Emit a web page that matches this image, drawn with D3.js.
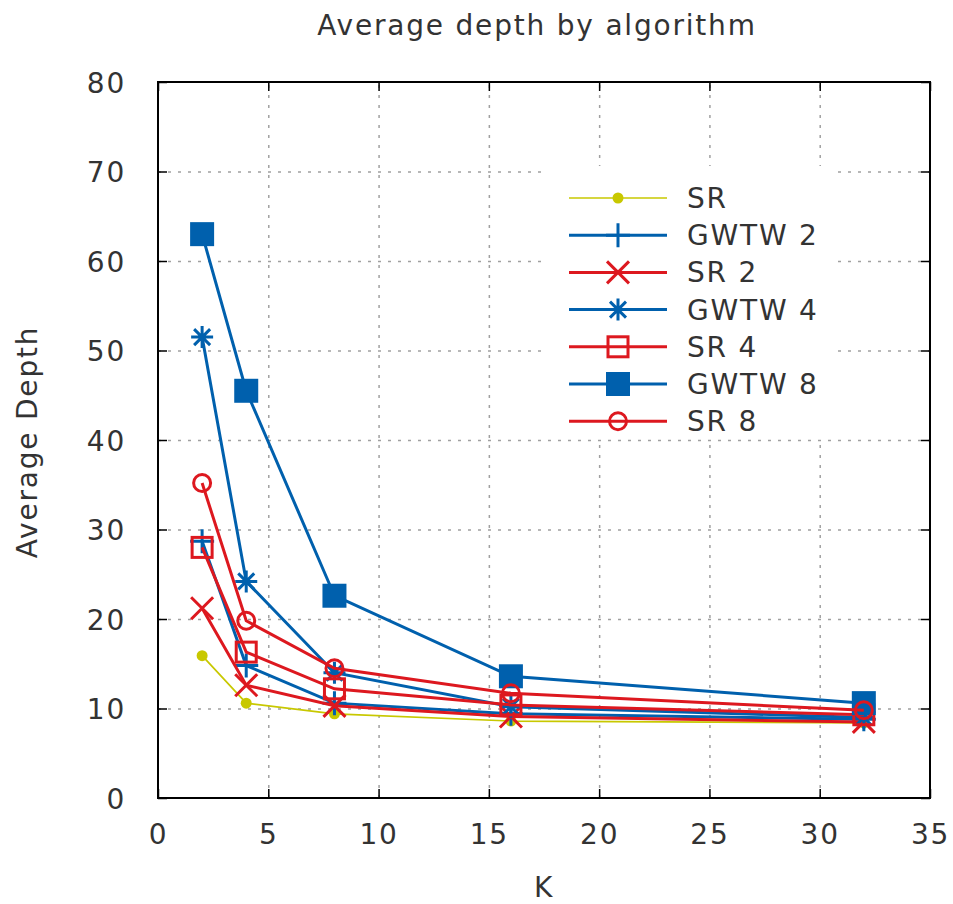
<!DOCTYPE html>
<html>
<head>
<meta charset="utf-8">
<script src="https://cdn.jsdelivr.net/npm/d3@7"></script>
<style>
  body { margin: 0; background: #fff; }
  svg text { font-family: 'DejaVu Sans', sans-serif; fill: #333; letter-spacing: 1.8px; }
</style>
</head>
<body>
<div id="chart"></div>
<script>
// data
const kValues = [2, 4, 8, 16, 32];
const seriesNames = ['SR', 'GWTW 2', 'SR 2', 'GWTW 4', 'SR 4', 'GWTW 8', 'SR 8'];
const srDepth    = [15.9, 10.6, 9.4, 8.6, 8.4];
const gwtw2Depth = [28.7, 14.8, 10.6, 9.4, 8.8];
const sr2Depth   = [21.2, 12.6, 10.3, 9.1, 8.5];
const gwtw4Depth = [51.5, 24.2, 14.0, 10.2, 9.0];
const sr4Depth   = [28.0, 16.3, 12.2, 10.4, 9.3];
const gwtw8Depth = [63.0, 45.5, 22.6, 13.6, 10.6];
const sr8Depth   = [35.2, 19.8, 14.5, 11.7, 9.8];
const xTicks = [0, 5, 10, 15, 20, 25, 30, 35];
const yTicks = [0, 10, 20, 30, 40, 50, 60, 70, 80];

const allDepths = [srDepth, gwtw2Depth, sr2Depth, gwtw4Depth, sr4Depth, gwtw8Depth, sr8Depth];

// look of each series (gnuplot style)
const BLUE = '#0060ad', RED = '#dd181f', YELLOW = '#c8c800';
const styles = [
  { color: YELLOW, lw: 1.7, marker: 'dot' },
  { color: BLUE, lw: 3, marker: 'plus' },
  { color: RED, lw: 3, marker: 'cross' },
  { color: BLUE, lw: 3, marker: 'star' },
  { color: RED, lw: 3, marker: 'box' },
  { color: BLUE, lw: 3, marker: 'fbox' },
  { color: RED, lw: 3, marker: 'circle' }
];

const series = seriesNames.map((name, i) => ({
  name,
  style: styles[i],
  points: kValues.map((k, j) => ({ k, depth: allDepths[i][j] }))
}));

const W = 953, H = 904;
const margin = { top: 82, right: 23, bottom: 106, left: 158 };
const innerW = W - margin.left - margin.right;
const innerH = H - margin.top - margin.bottom;

const svg = d3.select('#chart').append('svg')
  .attr('width', W)
  .attr('height', H);

const chart = svg.append('g')
  .attr('transform', `translate(${margin.left},${margin.top})`);

const x = d3.scaleLinear().domain([0, 35]).range([0, innerW]);
const y = d3.scaleLinear().domain([0, 80]).range([innerH, 0]);

// grid
const gridX = chart.append('g')
  .attr('transform', `translate(0,${innerH})`)
  .call(d3.axisBottom(x).tickValues(xTicks.slice(1, -1)).tickSize(-innerH).tickFormat(''));
const gridY = chart.append('g')
  .call(d3.axisLeft(y).tickValues(yTicks.slice(1, -1)).tickSize(-innerW).tickFormat(''));
[gridX, gridY].forEach(g => {
  g.select('.domain').remove();
  g.selectAll('line')
    .attr('stroke', '#a0a0a0')
    .attr('stroke-width', 1.5)
    .attr('stroke-dasharray', '3,7');
});

// axes with inward ticks, mirrored on top and right
const xAxisG = chart.append('g')
  .attr('transform', `translate(0,${innerH})`)
  .call(d3.axisBottom(x).tickValues(xTicks).tickSizeInner(-9).tickSizeOuter(0).tickPadding(26));
const yAxisG = chart.append('g')
  .call(d3.axisLeft(y).tickValues(yTicks).tickSizeInner(-9).tickSizeOuter(0).tickPadding(32));
const xTopG = chart.append('g')
  .call(d3.axisTop(x).tickValues(xTicks).tickSizeInner(-9).tickSizeOuter(0).tickFormat(''));
const yRightG = chart.append('g')
  .attr('transform', `translate(${innerW},0)`)
  .call(d3.axisRight(y).tickValues(yTicks).tickSizeInner(-9).tickSizeOuter(0).tickFormat(''));

[xAxisG, yAxisG, xTopG, yRightG].forEach(g => {
  g.select('.domain').remove();
  g.selectAll('line').attr('stroke', '#000').attr('stroke-width', 1.5);
  g.selectAll('text').attr('font-size', 28).attr('fill', '#333');
});
yAxisG.selectAll('text').attr('dy', '0.36em');

chart.append('rect')
  .attr('width', innerW)
  .attr('height', innerH)
  .attr('fill', 'none')
  .attr('stroke', '#000')
  .attr('stroke-width', 2);

// titles
svg.append('text')
  .attr('x', 537).attr('y', 35)
  .attr('text-anchor', 'middle')
  .attr('font-size', 28)
  .text('Average depth by algorithm');

svg.append('text')
  .attr('x', 544).attr('y', 897)
  .attr('text-anchor', 'middle')
  .attr('font-size', 28)
  .text('K');

svg.append('text')
  .attr('transform', 'translate(37,442) rotate(-90)')
  .attr('text-anchor', 'middle')
  .attr('font-size', 28)
  .text('Average Depth');

function drawMarker(sel, st) {
  const c = st.color;
  switch (st.marker) {
    case 'dot':
      sel.append('circle').attr('r', 5.5).attr('fill', c);
      break;
    case 'plus':
      sel.append('path').attr('d', 'M-12,0H12M0,-12V12')
        .attr('stroke', c).attr('stroke-width', 3).attr('fill', 'none');
      break;
    case 'cross':
      sel.append('path').attr('d', 'M-11,-11L11,11M-11,11L11,-11')
        .attr('stroke', c).attr('stroke-width', 3).attr('fill', 'none');
      break;
    case 'star':
      sel.append('path').attr('d', 'M-11,0H11M0,-11V11M-8,-8L8,8M-8,8L8,-8')
        .attr('stroke', c).attr('stroke-width', 3).attr('fill', 'none');
      break;
    case 'box':
      sel.append('rect').attr('x', -10).attr('y', -10).attr('width', 20).attr('height', 20)
        .attr('stroke', c).attr('stroke-width', 3).attr('fill', 'none');
      break;
    case 'fbox':
      sel.append('rect').attr('x', -12).attr('y', -12).attr('width', 24).attr('height', 24)
        .attr('fill', c);
      break;
    case 'circle':
      sel.append('circle').attr('r', 8.5)
        .attr('stroke', c).attr('stroke-width', 3).attr('fill', 'none');
      break;
  }
}

// legend (opaque box, drawn before the data like gnuplot's key)
const legend = svg.append('g');
legend.append('rect')
  .attr('x', 548).attr('y', 166)
  .attr('width', 290).attr('height', 272)
  .attr('fill', '#fff');

const rowH = 37.2;
series.forEach((s, i) => {
  const ly = 198 + i * rowH;
  const row = legend.append('g');
  row.append('line')
    .attr('x1', 569).attr('x2', 667)
    .attr('y1', ly).attr('y2', ly)
    .attr('stroke', s.style.color)
    .attr('stroke-width', s.style.lw);
  row.append('g')
    .attr('transform', `translate(618,${ly})`)
    .call(drawMarker, s.style);
  row.append('text')
    .attr('x', 687).attr('y', ly)
    .attr('dy', '0.36em')
    .attr('font-size', 28)
    .text(s.name);
});

// lines and points
const line = d3.line()
  .x(d => x(d.k))
  .y(d => y(d.depth));

series.forEach(s => {
  const g = chart.append('g');
  g.append('path')
    .datum(s.points)
    .attr('d', line)
    .attr('fill', 'none')
    .attr('stroke', s.style.color)
    .attr('stroke-width', s.style.lw)
    .attr('stroke-linejoin', 'miter');

  g.selectAll('.pt')
    .data(s.points)
    .enter()
    .append('g')
    .attr('class', 'pt')
    .attr('transform', d => `translate(${x(d.k)},${y(d.depth)})`)
    .each(function () { drawMarker(d3.select(this), s.style); });
});
</script>
</body>
</html>
